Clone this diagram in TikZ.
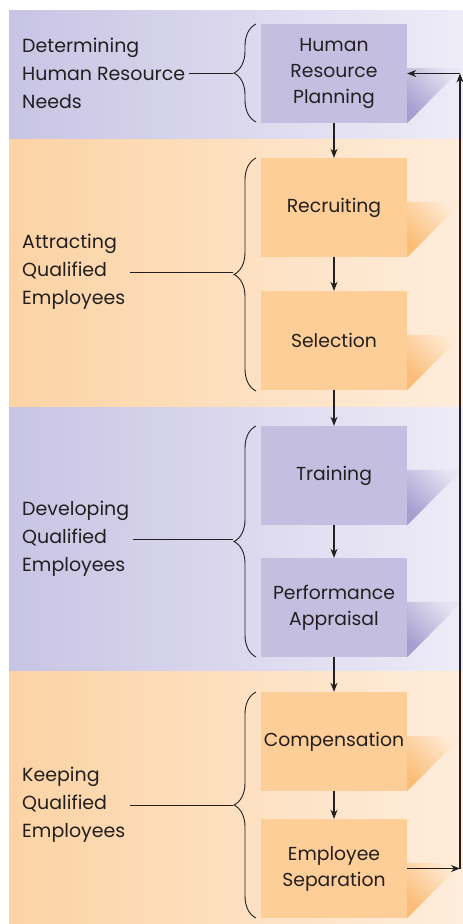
\documentclass[tikz,border=0pt]{standalone}
\usepackage{fontspec}
\setmainfont{Poppins}
\usetikzlibrary{arrows.meta,decorations.pathreplacing,positioning}
\definecolor{bandpurpleL}{RGB}{200,196,228}
\definecolor{bandpurpleR}{RGB}{237,236,247}
\definecolor{bandorangeL}{RGB}{252,211,164}
\definecolor{bandorangeR}{RGB}{254,237,220}
\definecolor{boxpurple}{RGB}{196,191,225}
\definecolor{boxorange}{RGB}{253,206,152}
\definecolor{tailpurple}{RGB}{165,158,207}
\definecolor{tailorange}{RGB}{251,188,118}
\definecolor{ink}{RGB}{35,31,32}

\tikzset{
  stagebox/.style={minimum width=146pt, minimum height=99pt, inner sep=0pt, align=center,
    text=ink, font=\fontsize{18.8}{26}\selectfont},
  stagelabel/.style={anchor=west, align=left, inner sep=4pt, text=ink,
    font=\fontsize{19}{28}\selectfont},
  flow/.style={draw=ink, line width=1.1pt, -{Stealth[length=9pt,width=7pt]}},
  grouping/.style={draw=ink, line width=0.9pt, decorate, decoration={brace, amplitude=22pt}},
}

\begin{document}
\begin{tikzpicture}[x=1pt, y=-1pt]
    \useasboundingbox (0,0) rectangle (463,924);

    % Bands
    \shade[left color=bandpurpleL, right color=bandpurpleR] (9,10) rectangle (463,139);
    \shade[left color=bandorangeL, right color=bandorangeR] (9,139) rectangle (463,407);
    \shade[left color=bandpurpleL, right color=bandpurpleR] (9,407) rectangle (463,671);
    \shade[left color=bandorangeL, right color=bandorangeR] (9,671) rectangle (463,924);

    % Stages
    \node[stagebox, fill=boxpurple] (hrp) at (334,73.5) {Human\\Resource\\Planning};
    \node[stagebox, fill=boxorange] (recruit) at (334,207.5) {Recruiting};
    \node[stagebox, fill=boxorange] (select) at (334,340.5) {Selection};
    \node[stagebox, fill=boxpurple] (train) at (334,475.5) {Training};
    \node[stagebox, fill=boxpurple] (appraise) at (334,607.5) {Performance\\Appraisal};
    \node[stagebox, fill=boxorange] (comp) at (334,741.5) {Compensation};
    \node[stagebox, fill=boxorange] (separate) at (334,868.5) {Employee\\Separation};

    % Tails
    \foreach \b/\c in {hrp/purple, train/purple, appraise/purple,
                       recruit/orange, select/orange, comp/orange, separate/orange}
      \shade[bottom color=tail\c, top color=box\c!40!white, shading angle=-45]
        ([yshift=-44pt]\b.north east) -- ++(55,0) -- (\b.south east) -- cycle;

    % Groups
    \node[stagelabel] (needs) at (18,73) {Determining\\Human Resource\\Needs};
    \node[stagelabel] (attract) at (18,272) {Attracting\\Qualified\\Employees};
    \node[stagelabel] (develop) at (18,539) {Developing\\Qualified\\Employees};
    \node[stagelabel] (keep) at (18,805) {Keeping\\Qualified\\Employees};

    \coordinate (tip) at (233,0);
    \draw[grouping] (256,122) -- (256,24);
    \draw[grouping] (256,391) -- (256,158);
    \draw[grouping] (256,657) -- (256,426);
    \draw[grouping] (256,918) -- (256,692);
    \draw[ink, line width=0.9pt] (needs.east) -- (needs.east -| tip);
    \draw[ink, line width=0.9pt] (attract.east) -- (attract.east -| tip);
    \draw[ink, line width=0.9pt] (develop.east) -- (develop.east -| tip);
    \draw[ink, line width=0.9pt] (keep.east) -- (keep.east -| tip);

    % Flow
    \draw[flow] (hrp) -- (recruit);
    \draw[flow] (recruit) -- (select);
    \draw[flow] (select) -- (train);
    \draw[flow] (train) -- (appraise);
    \draw[flow] (appraise) -- (comp);
    \draw[flow] (comp) -- (separate);

    % Feedback
    \coordinate (rail) at (460,0);
    \coordinate (railbottom) at (separate.east -| rail);
    \coordinate (railtop) at (hrp.east -| rail);
    \draw[flow] (separate.east) -- (railbottom);
    \draw[flow] (railbottom) -- (railtop);
    \draw[flow] (railtop) -- (hrp.east);
\end{tikzpicture}
\end{document}
